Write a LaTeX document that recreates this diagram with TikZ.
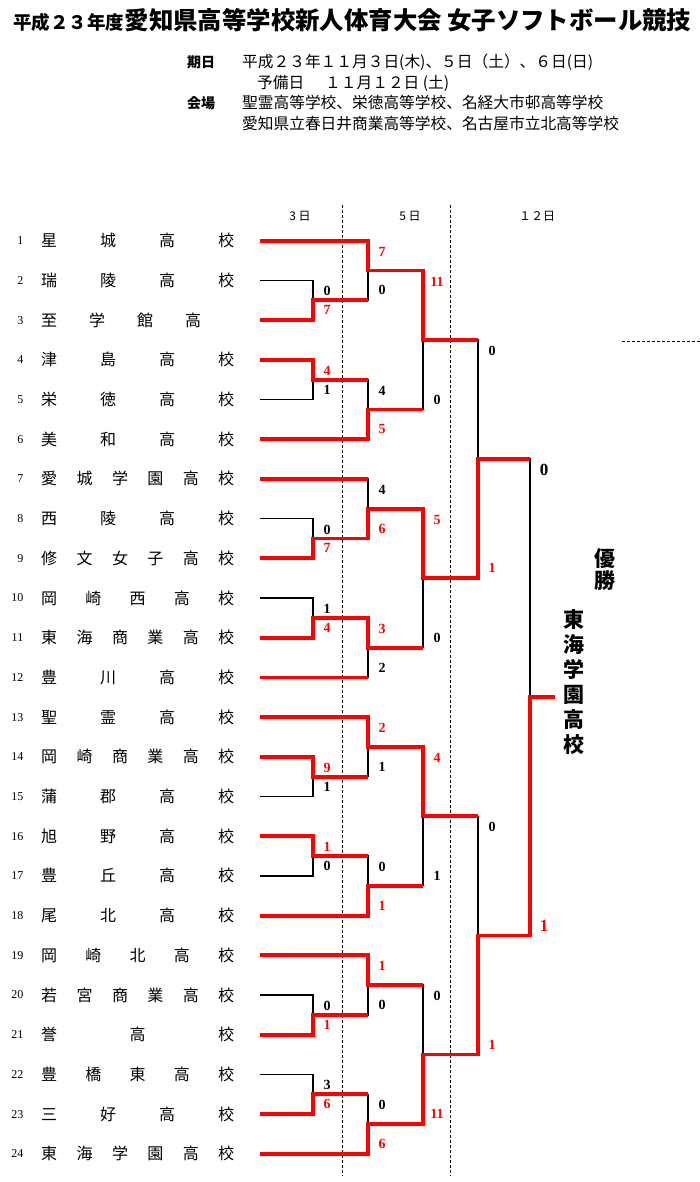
\documentclass[tikz,border=0pt]{standalone}
\usepackage{fontspec}
\setmainfont{Liberation Serif}
\newfontfamily\jp{Noto Sans CJK JP}
\usetikzlibrary{calc}
\begin{document}
\begin{tikzpicture}[x=1pt,y=-1pt,
				every node/.style={inner sep=0pt},
				lose/.style={draw=black,line width=1.3pt},
				win/.style={draw=red,line width=3.8pt,line join=miter},
				day/.style={draw=black,line width=1pt,dash pattern=on 3pt off 2pt},
				info/.style={anchor=base west,font=\jp\fontsize{15.7}{15.7}\selectfont},
				head/.style={font=\jp\fontsize{12}{12}\selectfont},
				num/.style={anchor=east,font=\fontsize{12}{12}\selectfont},
				team/.style={anchor=west,font=\jp\fontsize{16}{16}\selectfont},
				wsc/.style={text=red,font=\bfseries\fontsize{14}{14}\selectfont},
				lsc/.style={text=black,font=\bfseries\fontsize{14}{14}\selectfont},
				wbig/.style={text=red,font=\bfseries\fontsize{17}{17}\selectfont},
				lbig/.style={text=black,font=\bfseries\fontsize{17}{17}\selectfont}]
\fill[white] (0,0) rectangle (700,1182);
\useasboundingbox (0,0) rectangle (700,1182);
\node[anchor=base west,font=\jp\bfseries\fontsize{18.5}{18.5}\selectfont] (ttl) at (13,30) {平成２３年度};
\node[anchor=base west,font=\jp\bfseries\fontsize{24.4}{24.4}\selectfont] (ttl2) at (ttl.base east) {愛知県高等学校新人体育大会 女子ソフトボール競技};
\node[info,font=\jp\bfseries\fontsize{14}{14}\selectfont] (kijitsu) at (187,68) {期日};
\node[info] (date1) at (242,68) {平成２３年１１月３日(木)、５日（土）、６日(日)};
\node[info] (yobi) at (257,88.5) {予備日};
\node[info] (date2) at (325,88.5) {１１月１２日 (土)};
\node[info,font=\jp\bfseries\fontsize{14}{14}\selectfont] (kaijo) at (187,109) {会場};
\node[info] (venue1) at (242,109) {聖霊高等学校、栄徳高等学校、名経大市邨高等学校};
\node[info] (venue2) at (242,129.5) {愛知県立春日井商業高等学校、名古屋市立北高等学校};
\node[head] (day3) at (300,216.7) {3 日};
\node[head] (day5) at (410,216.7) {5 日};
\node[head] (day12) at (537,216.7) {１２日};
\draw[day] (342,205) -- (342,1176);
\draw[day] (450,205) -- (450,1176);
\draw[day] (622,341.5) -- (700,341.5);
\foreach \i/\w/\nm in {1/193/{星\hfil 城\hfil 高\hfil 校}, 2/193/{瑞\hfil 陵\hfil 高\hfil 校},
	3/160/{至\hfil 学\hfil 館\hfil 高}, 4/193/{津\hfil 島\hfil 高\hfil 校},
	5/193/{栄\hfil 徳\hfil 高\hfil 校}, 6/193/{美\hfil 和\hfil 高\hfil 校},
	7/193/{愛\hfil 城\hfil 学\hfil 園\hfil 高\hfil 校}, 8/193/{西\hfil 陵\hfil 高\hfil 校},
	9/193/{修\hfil 文\hfil 女\hfil 子\hfil 高\hfil 校}, 10/193/{岡\hfil 崎\hfil 西\hfil 高\hfil 校},
	11/193/{東\hfil 海\hfil 商\hfil 業\hfil 高\hfil 校}, 12/193/{豊\hfil 川\hfil 高\hfil 校},
	13/193/{聖\hfil 霊\hfil 高\hfil 校}, 14/193/{岡\hfil 崎\hfil 商\hfil 業\hfil 高\hfil 校},
	15/193/{蒲\hfil 郡\hfil 高\hfil 校}, 16/193/{旭\hfil 野\hfil 高\hfil 校},
	17/193/{豊\hfil 丘\hfil 高\hfil 校}, 18/193/{尾\hfil 北\hfil 高\hfil 校},
	19/193/{岡\hfil 崎\hfil 北\hfil 高\hfil 校}, 20/193/{若\hfil 宮\hfil 商\hfil 業\hfil 高\hfil 校},
	21/193/{誉\hfil 高\hfil 校}, 22/193/{豊\hfil 橋\hfil 東\hfil 高\hfil 校},
	23/193/{三\hfil 好\hfil 高\hfil 校}, 24/193/{東\hfil 海\hfil 学\hfil 園\hfil 高\hfil 校}}{
	\node[num] (k\i) at (23.5,{240.7+39.7*(\i-1)}) {\i};
	\node[team] (n\i) at (41,{240.7+39.7*(\i-1)}) {\makebox[\w pt][s]{\nm}};
	\coordinate (s\i) at (260,{240.7+39.7*(\i-1)});
}
\foreach \n/\x/\y in {p1/313/300.25, p2/313/379.65, p3/313/538.45, p4/313/617.85,
	p5/313/776.65, p6/313/856.05, p7/313/1014.85, p8/313/1094.25,
	q1/368/270.48, q2/368/409.43, q3/368/508.68, q4/368/647.63,
	q5/368/746.88, q6/368/885.83, q7/368/985.08, q8/368/1124.03,
	r1/423/339.95, r2/423/578.15, r3/423/816.35, r4/423/1054.55,
	u1/478/459.05, u2/478/935.45, f/530/697.25, champ/555/697.25}
	\coordinate (\n) at (\x,\y);
\foreach \t/\m/\b/\ct/\cb/\vt/\vb in {
	s2/p1/s3/lsc/wsc/0/7, s4/p2/s5/wsc/lsc/4/1, s8/p3/s9/lsc/wsc/0/7, s10/p4/s11/lsc/wsc/1/4,
	s14/p5/s15/wsc/lsc/9/1, s16/p6/s17/wsc/lsc/1/0, s20/p7/s21/lsc/wsc/0/1, s22/p8/s23/lsc/wsc/3/6,
	s1/q1/p1/wsc/lsc/7/0, p2/q2/s6/lsc/wsc/4/5, s7/q3/p3/lsc/wsc/4/6, p4/q4/s12/wsc/lsc/3/2,
	s13/q5/p5/wsc/lsc/2/1, p6/q6/s18/lsc/wsc/0/1, s19/q7/p7/wsc/lsc/1/0, p8/q8/s24/lsc/wsc/0/6,
	q1/r1/q2/wsc/lsc/11/0, q3/r2/q4/wsc/lsc/5/0, q5/r3/q6/wsc/lsc/4/1, q7/r4/q8/lsc/wsc/0/11,
	r1/u1/r2/lsc/wsc/0/1, r3/u2/r4/lsc/wsc/0/1, u1/f/u2/lbig/wbig/0/1}{
	\draw[lose] (\t) -| (\m) |- (\b);
	\node[\ct] (\m-t) at ($(\t -| \m)+(14,11)$) {\vt};
	\node[\cb] (\m-b) at ($(\b -| \m)+(14,-10)$) {\vb};
}
\draw[win] (s1) -| (q1) -| (r1) -- (r1 -| u1);
\draw[win] (s3) -| (p1) -- (p1 -| q1);
\draw[win] (s4) -| (p2) -- (p2 -| q2);
\draw[win] (s6) -| (q2) -- (q2 -| r1);
\draw[win] (s7) -- (s7 -| q3);
\draw[win] (s9) -| (p3) -| (q3) -| (r2) -| (u1) -- (u1 -| f);
\draw[win] (s11) -| (p4) -| (q4) -- (q4 -| r2);
\draw[win] (s12) -- (s12 -| q4);
\draw[win] (s13) -| (q5) -| (r3) -- (r3 -| u2);
\draw[win] (s14) -| (p5) -- (p5 -| q5);
\draw[win] (s16) -| (p6) -- (p6 -| q6);
\draw[win] (s18) -| (q6) -- (q6 -| r3);
\draw[win] (s19) -| (q7) -- (q7 -| r4);
\draw[win] (s21) -| (p7) -- (p7 -| q7);
\draw[win] (s23) -| (p8) -- (p8 -| q8);
\draw[win] (s24) -| (q8) -| (r4) -| (u2) -| (f) -- (champ);
\node[font=\jp\bfseries\fontsize{21}{22}\selectfont,align=center] (yusho) at (605,570) {優\\勝};
\node[font=\jp\bfseries\fontsize{21}{25}\selectfont,align=center] (winner) at (574,682.5) {東\\海\\学\\園\\高\\校};
\end{tikzpicture}
\end{document}
